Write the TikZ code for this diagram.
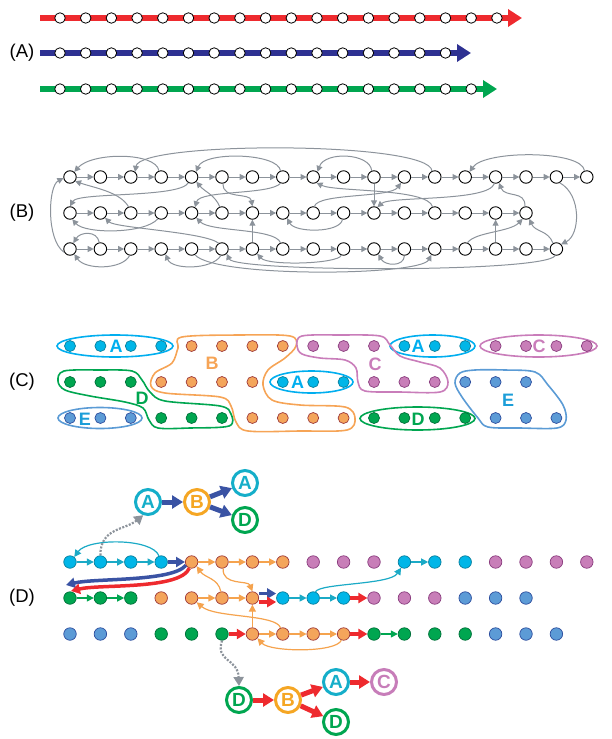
\documentclass[tikz,border=0pt]{standalone}
\usepackage{fontspec}
\setmainfont{Liberation Sans}
\usetikzlibrary{arrows.meta}
\definecolor{lnRed}{HTML}{EE2A2E}
\definecolor{lnBlue}{HTML}{2E3192}
\definecolor{lnGreen}{HTML}{00A650}
\definecolor{gEdge}{HTML}{8C939B}
\definecolor{Fcy}{HTML}{00B6E8}\definecolor{Dcy}{HTML}{0A7F9C}
\definecolor{For}{HTML}{F4A55B}\definecolor{Dor}{HTML}{9E3A3A}
\definecolor{Fpu}{HTML}{C87EB8}\definecolor{Dpu}{HTML}{8A3D7E}
\definecolor{Fbl}{HTML}{5C9BD6}\definecolor{Dbl}{HTML}{2D4E9E}
\definecolor{Fgr}{HTML}{00A650}\definecolor{Dgr}{HTML}{00703A}
\definecolor{Ocy}{HTML}{00AEEF}
\definecolor{Oor}{HTML}{F6A456}
\definecolor{Opu}{HTML}{C97DBA}
\definecolor{Obl}{HTML}{5B9BD5}
\definecolor{Ogr}{HTML}{00A650}
\definecolor{Lbl}{HTML}{1C9ED8}
\definecolor{eCy}{HTML}{1BAAC6}
\definecolor{eOr}{HTML}{F5A34E}
\definecolor{eGr}{HTML}{00A650}
\definecolor{eBlue}{HTML}{3A53A4}
\definecolor{eRed}{HTML}{EE2A2E}
\definecolor{tCy}{HTML}{15AEC9}
\definecolor{tOr}{HTML}{F5A623}
\definecolor{tGr}{HTML}{00A650}
\definecolor{tPu}{HTML}{C77DB9}
\begin{document}
\begin{tikzpicture}[x=1pt,y=-1pt,
  acirc/.style={circle,draw=black,fill=white,line width=0.8pt,minimum size=10.5pt,inner sep=0pt},
  bcirc/.style={circle,draw=black,fill=white,line width=0.9pt,minimum size=12.5pt,inner sep=0pt},
  dotst/.style={circle,inner sep=0pt,line width=0.7pt},
  ge/.style={draw=gEdge,line width=1pt,-{Triangle[length=6pt,width=6pt]}},
  secl/.style={font=\fontsize{18.5}{20}\selectfont,inner sep=0pt},
  grp/.style={line width=1.6pt},
  glab/.style={font=\bfseries\fontsize{18}{20}\selectfont,inner sep=0pt},
  ethin/.style={line width=1.2pt,-{Triangle[length=7pt,width=7pt]}},
  ethick/.style={line width=3.5pt,-{Triangle[length=9pt,width=10pt]}},
  tcirc/.style={circle,draw=#1,text=#1,fill=white,line width=3pt,minimum size=25pt,inner sep=0pt,font=\bfseries\fontsize{19}{20}\selectfont},
  tarr/.style={line width=5pt,-{Triangle[length=11pt,width=13pt]}},
  dotarr/.style={draw=gEdge,line width=2.2pt,dash pattern=on 2pt off 1.5pt,-{Triangle[length=9pt,width=10pt]}},
]
\useasboundingbox (0,0) rectangle (611,739);

% ---------------- (A)
\node[secl] (labA) at (22,53) {(A)};
\foreach \n/\y/\col/\tip [count=\r] in {18/18/lnRed/522, 16/53/lnBlue/471, 17/89/lnGreen/497} {
  \coordinate (as\r) at (40,\y);
  \coordinate (at\r) at (\tip,\y);
  \draw[line width=6pt,\col,-{Triangle[length=14pt,width=17pt]}] (as\r) -- (at\r);
  \foreach \i in {1,...,\n} \node[acirc] (a\r-\i) at ({60+25.7*(\i-1)},\y) {};
}

% ---------------- (B)
\node[secl] (labB) at (22,213) {(B)};
\foreach \rr/\yy/\nn in {1/177/17,2/213/15,3/249/16}{
  \foreach \jj in {0,...,\nn} \node[bcirc] (b\rr c\jj) at ({70+30.4*\jj},\yy) {};
}
\foreach \rr/\nn in {1/16,2/14,3/15}{
  \foreach \jj in {0,...,\nn}{
    \pgfmathtruncatemacro\kk{\jj+1}
    \draw[ge] (b\rr c\jj) -- (b\rr c\kk);
  }
}
% arches above row 1
\draw[ge] (b1c3.110) .. controls (156,152) and (92,152) .. (b1c0.50);
\draw[ge] (b1c12.115) .. controls (430,141) and (140,141) .. (b1c2.50);
\draw[ge] (b1c7.110) .. controls (278,153) and (205,151) .. (b1c4.50);
\draw[ge] (b1c10.110) .. controls (370,153) and (325,151) .. (b1c8.50);
\draw[ge] (b1c17.110) .. controls (582,150) and (485,150) .. (b1c13.50);
% between rows 1 and 2
\draw[ge] (b1c4.240) .. controls (180,198) and (78,192) .. (b2c0.north);
\draw[ge] (b2c2.110) .. controls (120,192) and (95,188) .. (b1c0.-40);
\draw[ge] (b2c5.110) .. controls (215,195) and (205,192) .. (b1c4.-45);
\draw[ge] (b1c5.-80) .. controls (222,200) and (250,192) .. (b2c6.north);
\draw[ge] (b1c7.-110) .. controls (270,195) and (200,190) .. (b2c4.60);
\draw[ge] (b1c10) -- (b2c10);
\draw[ge] (b2c8.80) .. controls (318,193) and (390,198) .. (b1c11.-120);
\draw[ge] (b2c12.110) .. controls (428,188) and (335,192) .. (b1c8.-60);
\draw[ge] (b1c14.-100) .. controls (488,202) and (390,196) .. (b2c10.60);
\draw[ge] (b2c15.100) .. controls (526,190) and (505,198) .. (b1c14.-60);
\draw[ge] (b1c16.-60) .. controls (582,195) and (580,235) .. (b3c16.45);
\draw[ge] (b3c0.210) .. controls (46,240) and (48,186) .. (b1c0.190);
% between rows 2 and 3
\draw[ge] (b2c3.-120) .. controls (145,234) and (85,234) .. (b2c0.-70);
\draw[ge] (b3c1.100) .. controls (97,230) and (80,232) .. (b3c0.60);
\draw[ge] (b3c5.120) .. controls (205,232) and (115,228) .. (b2c1.-45);
\draw[ge] (b3c7.110) .. controls (275,228) and (210,232) .. (b2c4.-45);
\draw[ge] (b2c9.-100) .. controls (340,233) and (295,233) .. (b2c7.-50);
\draw[ge] (b3c6) -- (b2c6);
\draw[ge] (b3c14) -- (b2c14);
\draw[ge] (b3c13.70) .. controls (475,232) and (510,232) .. (b2c15.-120);
\draw[ge] (b3c16.120) .. controls (548,230) and (535,232) .. (b2c15.-60);
% below row 3
\draw[ge] (b3c2.-100) .. controls (122,270) and (85,270) .. (b3c0.-50);
\draw[ge] (b3c5.-100) .. controls (212,270) and (172,270) .. (b3c3.-50);
\draw[ge] (b3c11.-90) .. controls (404,267) and (385,266) .. (b3c10.-50);
\draw[ge] (b3c9.-110) .. controls (338,264) and (268,266) .. (b3c6.-45);
\draw[ge] (b3c16.-100) .. controls (545,273) and (235,272) .. (b3c5.-45);
\draw[ge] (b3c4.-60) .. controls (215,278) and (420,276) .. (b3c12.-120);

% ---------------- (C)
\node[secl] (labC) at (22,382) {(C)};
\draw[grp,Ocy] (115,346) ellipse [x radius=58, y radius=11];
\draw[grp,Ocy] (432.5,346) ellipse [x radius=42.5, y radius=11];
\draw[grp,Opu] (538.5,346) ellipse [x radius=58.5, y radius=11];
\draw[grp,Ocy] (311.5,382) ellipse [x radius=41.5, y radius=11];
\draw[grp,Obl] (100,418) ellipse [x radius=42, y radius=10.5];
\draw[grp,Ogr] (417.5,418.5) ellipse [x radius=57.5, y radius=11.5];
\draw[grp,Oor] plot[smooth cycle,tension=0.55] coordinates {(182,337) (240,335) (290,336) (296,346) (285,358) (268,370) (263,385) (272,400) (300,405) (345,407) (355,418) (347,430) (300,431) (248,431) (236,422) (231,406) (220,397) (165,393) (151,386) (155,373) (172,363) (178,348)};
\draw[grp,Opu] plot[smooth cycle,tension=0.55] coordinates {(302,336) (340,335) (380,336) (390,345) (400,356) (420,362) (440,368) (448,382) (440,392) (400,392) (365,391) (358,382) (356,368) (345,360) (320,358) (302,354) (297,346)};
\draw[grp,Ogr] plot[smooth cycle,tension=0.55] coordinates {(64,371) (100,370) (132,371) (142,380) (150,392) (165,401) (220,406) (231,414) (229,426) (190,428) (158,428) (149,420) (143,408) (125,402) (90,396) (65,390) (58,381)};
\draw[grp,Obl] plot[smooth cycle,tension=0.55] coordinates {(460,373) (475,370) (505,370) (535,372) (548,385) (563,405) (566,420) (557,428) (520,428) (488,427) (478,418) (462,397) (455,383)};

% dots of (C) and (D)
\foreach \pre/\off/\sz in {c/0/11pt, d/216/12.5pt}{
  \foreach \kk [count=\jj from 0] in {cy,cy,cy,cy,or,or,or,or,pu,pu,pu,cy,cy,cy,pu,pu,pu,pu}
    \node[dotst,minimum size=\sz,fill=F\kk,draw=D\kk] (\pre1c\jj) at ({70+30.4*\jj},{346+\off}) {};
  \foreach \kk [count=\jj from 0] in {gr,gr,gr,or,or,or,or,cy,cy,cy,pu,pu,pu,bl,bl,bl}
    \node[dotst,minimum size=\sz,fill=F\kk,draw=D\kk] (\pre2c\jj) at ({70+30.4*\jj},{382+\off}) {};
  \foreach \kk [count=\jj from 0] in {bl,bl,bl,gr,gr,gr,or,or,or,or,gr,gr,gr,gr,bl,bl,bl}
    \node[dotst,minimum size=\sz,fill=F\kk,draw=D\kk] (\pre3c\jj) at ({70+30.4*\jj},{418+\off}) {};
}
\node[glab,Ocy] (lA1) at (116,346) {A};
\node[glab,Ocy] (lA2) at (418,346) {A};
\node[glab,Ocy] (lA3) at (297.5,382) {A};
\node[glab,Oor] (lB) at (212,363) {B};
\node[glab,Opu] (lC1) at (375,364) {C};
\node[glab,Opu] (lC2) at (539,346) {C};
\node[glab,Ogr] (lD1) at (142,398) {D};
\node[glab,Ogr] (lD2) at (418,419) {D};
\node[glab,Lbl] (lE1) at (85,419) {E};
\node[glab,Lbl] (lE2) at (508,400) {E};

% ---------------- (D)
\node[secl] (labD) at (22,598) {(D)};
% row 1
\foreach \j/\k in {0/1,1/2,2/3} \draw[ethin,eCy] (d1c\j) -- (d1c\k);
\draw[ethin,eCy] (d1c11) -- (d1c12);
\foreach \j/\k in {4/5,5/6,6/7} \draw[ethin,eOr] (d1c\j) -- (d1c\k);
\draw[ethick,eBlue] (d1c3) -- (d1c4);
\draw[ethin,eCy] (d1c3.110) .. controls (152,538) and (88,538) .. (d1c0.50);
% row 2
\foreach \j/\k in {0/1,1/2} \draw[ethin,eGr] (d2c\j) -- (d2c\k);
\foreach \j/\k in {4/5,5/6} \draw[ethin,eOr] (d2c\j) -- (d2c\k);
\foreach \j/\k in {7/8,8/9} \draw[ethin,eCy] (d2c\j) -- (d2c\k);
\draw[ethick,eBlue] ([yshift=4.5pt]d2c6.east) -- ([yshift=4.5pt]d2c7.west);
\draw[ethick,eRed] ([yshift=-4pt]d2c6.east) -- ([yshift=-4pt]d2c7.west);
\draw[ethick,eRed] (d2c9) -- (d2c10);
% row 3
\draw[ethick,eRed] (d3c5) -- (d3c6);
\foreach \j/\k in {6/7,7/8,8/9} \draw[ethin,eOr] (d3c\j) -- (d3c\k);
\draw[ethick,eRed] (d3c9) -- (d3c10);
\draw[ethin,eGr] (d3c10) -- (d3c11);
% cross links
\draw[ethin,eOr] (d3c6) -- (d2c6);
\draw[ethin,eOr] (d1c5.-80) .. controls (222,586) and (248,580) .. (d2c6.north);
\draw[ethin,eOr] (d2c5.100) .. controls (218,578) and (205,578) .. (d1c4.-40);
\draw[ethin,eOr] (d3c7.110) .. controls (276,614) and (215,618) .. (d2c4.-40);
\draw[ethin,eOr] (d3c9.-110) .. controls (336,653) and (270,652) .. (d3c6.-40);
\draw[ethin,eCy] (d2c8.70) .. controls (320,583) and (390,585) .. (d1c11.240);
\coordinate (tipBl) at (66,585);
\coordinate (tipRd) at (71,591);
\draw[ethick,eBlue] (d1c4.210) .. controls (172,582) and (95,578) .. (tipBl);
\draw[ethick,eRed] (d1c4.250) .. controls (180,590) and (100,584) .. (tipRd);

% small graphs
\node[tcirc=tCy] (tA1) at (148,502) {A};
\node[tcirc=tOr] (tB) at (197,502) {B};
\node[tcirc=tCy] (tA2) at (245,483) {A};
\node[tcirc=tGr] (tD) at (245,520) {D};
\draw[tarr,eBlue] (tA1) -- (tB);
\draw[tarr,eBlue] (tB) -- (tA2);
\draw[tarr,eBlue] (tB) -- (tD);

\node[tcirc=tGr] (uD1) at (239,700) {D};
\node[tcirc=tOr] (uB) at (288,700) {B};
\node[tcirc=tCy] (uA) at (336,682) {A};
\node[tcirc=tPu] (uC) at (384,682) {C};
\node[tcirc=tGr] (uD2) at (336,722) {D};
\draw[tarr,eRed] (uD1) -- (uB);
\draw[tarr,eRed] (uB) -- (uA);
\draw[tarr,eRed] (uA) -- (uC);
\draw[tarr,eRed] (uB) -- (uD2);

\draw[dotarr] (d1c1.north) .. controls (100,528) and (125,530) .. (tA1.-110);
\draw[dotarr] (d3c5.south) .. controls (215,662) and (238,658) .. (uD1.north);
\end{tikzpicture}
\end{document}
